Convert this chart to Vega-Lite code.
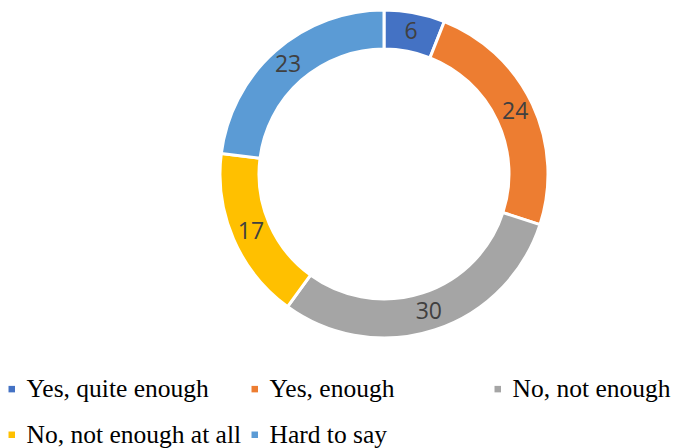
{
  "$schema": "https://vega.github.io/schema/vega-lite/v6.json",
  "width": 588,
  "height": 348,
  "autosize": {"type": "none"},
  "padding": {"left": 90, "top": 0, "right": 0, "bottom": 100},
  "background": "white",
  "config": {"view": {"stroke": null}},
  "data": {
    "values": [
      {"idx": 1, "answer": "Yes, quite enough", "value": 6},
      {"idx": 2, "answer": "Yes, enough", "value": 24},
      {"idx": 3, "answer": "No, not enough", "value": 30},
      {"idx": 4, "answer": "No, not enough at all", "value": 17},
      {"idx": 5, "answer": "Hard to say", "value": 23}
    ]
  },
  "encoding": {
    "theta": {"field": "value", "type": "quantitative", "stack": true},
    "order": {"field": "idx", "type": "quantitative"},
    "color": {
      "field": "answer",
      "type": "nominal",
      "scale": {
        "domain": ["Yes, quite enough", "Yes, enough", "No, not enough", "No, not enough at all", "Hard to say"],
        "range": ["#4472C4", "#ED7D31", "#A5A5A5", "#FFC000", "#5B9BD5"]
      },
      "legend": {
        "title": null,
        "orient": "none",
        "legendX": -91,
        "legendY": 376,
        "direction": "horizontal",
        "columns": 3,
        "gridAlign": "all",
        "columnPadding": 0,
        "rowPadding": 19,
        "padding": 0,
        "symbolType": "square",
        "symbolSize": 42,
        "symbolStrokeWidth": 0,
        "symbolOpacity": 1,
        "labelFont": "Liberation Serif",
        "labelFontSize": 25.5,
        "labelColor": "#000000",
        "labelOffset": 2,
        "labelLimit": 400
      }
    }
  },
  "layer": [
    {
      "mark": {"type": "arc", "outerRadius": 164, "innerRadius": 125, "stroke": "white", "strokeWidth": 3}
    },
    {
      "mark": {"type": "text", "radius": 145, "font": "Open Sans", "fontSize": 23, "color": "#404040"},
      "encoding": {
        "text": {"field": "value", "type": "quantitative"},
        "color": {"value": "#404040"}
      }
    }
  ]
}
